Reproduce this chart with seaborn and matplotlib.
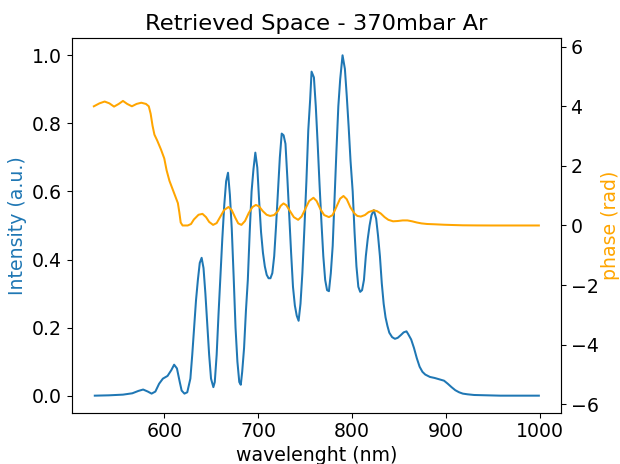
import numpy as np
import matplotlib
matplotlib.use("Agg")
import matplotlib.pyplot as plt
import seaborn as sns

# Retrieved spectral intensity
wavelength_int = [
    526, 541, 556, 566, 572.5, 577.5, 582.5, 586.5, 590.5, 594.5, 598.5, 603.5,
    607.5, 610.5, 613.5, 616.5, 618.5, 621.5, 624.5, 627.8, 629.8, 631.8, 633.8,
    635.8, 637.8, 639.8, 641.8, 643.8, 645.8, 647.8, 649.8, 652.3, 653.8, 655.8,
    657.8, 659.8, 661.8, 663.9, 665.9, 667.9, 669.9, 671.9, 673.9, 675.9, 677.9,
    679.9, 681.5, 683, 685, 687, 689, 691, 693, 695, 697, 699.1, 701.1, 703.1,
    705.1, 707.1, 709.1, 711.1, 713.1, 715.1, 717.1, 719.1, 721.1, 723.1, 725.1,
    727.1, 729.1, 731.1, 733.1, 735.1, 737.1, 739.1, 741.1, 743.1, 745.1, 747.1,
    749.4, 751.4, 753.4, 755.4, 756.9, 759.4, 761.4, 763.4, 765.4, 767.4, 769.4,
    771.4, 773.4, 775.4, 777.4, 779.4, 781.4, 783.4, 785.4, 787.4, 789.9, 792.4,
    794.4, 796.4, 798.4, 800.7, 802.7, 804.7, 806.7, 808.7, 810.7, 812.7, 814.7,
    816.7, 818.7, 820.7, 823.2, 825.7, 827.7, 829.7, 831.7, 833.7, 835.7, 837.7,
    839.7, 842.7, 845.7, 848.7, 852, 855, 858, 860, 863, 866, 869, 872, 875, 878,
    883, 888, 893, 898, 902, 906, 910, 914, 918, 923, 930, 943, 958, 978, 999,
]
intensity = [
    0.0, 0.001, 0.003, 0.007, 0.014, 0.018, 0.012, 0.006, 0.012, 0.035, 0.05, 0.058,
    0.075, 0.091, 0.08, 0.04, 0.015, 0.006, 0.01, 0.05, 0.12, 0.2, 0.28,
    0.34, 0.39, 0.405, 0.375, 0.3, 0.21, 0.12, 0.05, 0.025, 0.04, 0.12,
    0.24, 0.35, 0.46, 0.56, 0.63, 0.655, 0.59, 0.49, 0.35, 0.2, 0.1,
    0.04, 0.032, 0.07, 0.14, 0.25, 0.34, 0.48, 0.6, 0.665, 0.714, 0.67, 0.57, 0.48,
    0.42, 0.38, 0.355, 0.345, 0.345, 0.36, 0.41, 0.5, 0.6, 0.7, 0.77,
    0.765, 0.74, 0.64, 0.53, 0.42, 0.32, 0.265, 0.235, 0.22, 0.27, 0.36,
    0.5, 0.63, 0.78, 0.87, 0.952, 0.935, 0.85, 0.74, 0.62, 0.51, 0.41,
    0.34, 0.31, 0.307, 0.36, 0.44, 0.58, 0.72, 0.85, 0.93, 1.0, 0.96,
    0.88, 0.79, 0.69, 0.6, 0.48, 0.38, 0.32, 0.305, 0.31, 0.34, 0.41,
    0.46, 0.5, 0.53, 0.545, 0.52, 0.47, 0.41, 0.33, 0.27, 0.23,
    0.205, 0.185, 0.172, 0.167, 0.17, 0.178, 0.186, 0.189, 0.18, 0.165, 0.14, 0.11, 0.085, 0.07, 0.062,
    0.055, 0.052, 0.048, 0.044, 0.035, 0.025, 0.016, 0.01, 0.006, 0.004, 0.002, 0.001, 0.0, 0.0, 0.0,
]

# Retrieved spectral phase
wavelength_phase = [
    525, 531, 536.5, 541.5, 546.5, 551.5, 556, 560.5, 565.5, 570.5, 575.5, 580.5,
    583.5, 585.5, 587.5, 589.5, 592.5, 596.5, 600, 602.5, 605.5, 608.5, 611.5,
    614.5, 616, 617.5, 619.5, 625, 628.5, 631.5, 636.5, 640.7, 644.5, 647.8,
    652, 655.8, 659.8, 663.8, 668.4, 671.8, 675.8, 678.8, 682.2, 686, 690, 694,
    697.6, 701, 705, 709, 712.8, 717, 721, 724, 727, 730, 734, 738, 742.6,
    746.3, 750.3, 754.3, 758.9, 762.3, 766.3, 770.3, 775.4, 779.3, 783.3, 787.3,
    790.9, 794.4, 798.4, 802.7, 805.7, 809.4, 813.7, 817.7, 823.2, 826.7, 830.7,
    834.7, 838.7, 843.7, 848.7, 854, 859, 864, 869, 874, 880, 888, 898, 908,
    918, 933, 948, 999,
]
phase = [
    4.0, 4.1, 4.16, 4.1, 3.99, 4.08, 4.18, 4.08, 4.0, 4.08, 4.12, 4.08,
    4.0, 3.75, 3.35, 3.05, 2.85, 2.55, 2.25, 1.85, 1.5, 1.25, 1.0,
    0.75, 0.45, 0.1, 0.0, 0.0, 0.05, 0.2, 0.36, 0.39, 0.28, 0.12,
    0.02, 0.08, 0.3, 0.52, 0.62, 0.52, 0.25, 0.07, 0.02, 0.15, 0.42, 0.62,
    0.69, 0.64, 0.48, 0.36, 0.32, 0.35, 0.48, 0.66, 0.74, 0.68, 0.48, 0.28, 0.19,
    0.3, 0.56, 0.82, 0.93, 0.82, 0.55, 0.35, 0.28, 0.35, 0.62, 0.9,
    0.99, 0.88, 0.6, 0.4, 0.32, 0.3, 0.35, 0.45, 0.51, 0.48, 0.4,
    0.28, 0.19, 0.14, 0.15, 0.17, 0.17, 0.14, 0.1, 0.07, 0.05, 0.04, 0.025, 0.015,
    0.006, 0.002, 0.0, 0.0,
]

plt.rcParams["font.size"] = 14

DPI = 620 / 6.4
fig = plt.figure(figsize=(6.4, 464 / DPI), dpi=DPI)
ax = fig.add_axes([0.1155, 0.1106, 0.7895, 0.8069])

sns.lineplot(x=wavelength_int, y=intensity, ax=ax, color="tab:blue",
             linewidth=1.5, sort=False, estimator=None)
ax.set_xlabel("wavelenght (nm)")
ax.set_ylabel("Intensity (a.u.)", color="tab:blue")
ax.set_title("Retrieved Space - 370mbar Ar")

ax2 = ax.twinx()
sns.lineplot(x=wavelength_phase, y=phase, ax=ax2, color="orange",
             linewidth=1.5, sort=False, estimator=None)
ax2.set_ylim(-2 * np.pi, 2 * np.pi)
ax2.set_ylabel("phase (rad)", color="orange", labelpad=2)

fig.savefig("out.png", dpi=DPI)
